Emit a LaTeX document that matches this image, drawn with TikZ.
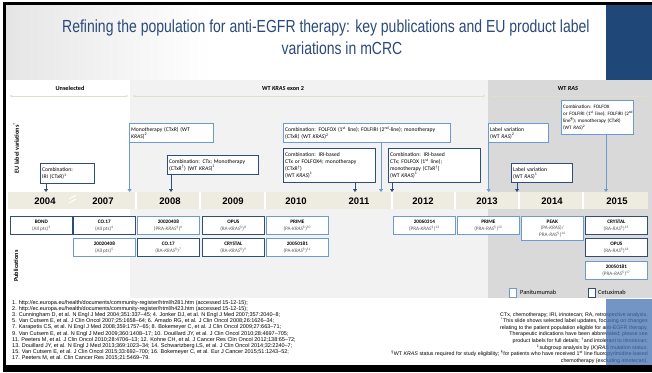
\documentclass[tikz,border=0pt]{standalone}
\usepackage{fontspec}
\setmainfont{Carlito}
\newfontfamily\arialf{Liberation Sans}
\usetikzlibrary{arrows.meta}
\definecolor{cetux}{HTML}{2E4D7B}
\definecolor{panit}{HTML}{6E9AD2}
\definecolor{titleblue}{HTML}{2B4A7A}
\definecolor{sidepanel}{HTML}{1F4778}
\definecolor{sidepaneltwo}{HTML}{4472B4}
\definecolor{lgray}{HTML}{F2F2F2}
\definecolor{dgray}{HTML}{D9D9D9}
\definecolor{yband}{HTML}{EEECE1}
\definecolor{hdrline}{HTML}{E2DEC9}
\definecolor{subgray}{HTML}{595959}
\newcommand{\sps}[1]{\textsuperscript{#1}}
\newcommand{\pubt}[2]{\textbf{#1}\\{\color{subgray}#2}}
\begin{document}
\begin{tikzpicture}[x=1pt,y=-1pt,
  eubox/.style={fill=white,line width=1.2pt,inner xsep=1.5pt,inner ysep=2pt,align=left,anchor=north west,
     font=\fontsize{5.6}{6.9}\selectfont},
  cbox/.style={eubox,draw=cetux},
  pbox/.style={eubox,draw=panit},
  pubbox/.style={fill=white,line width=1.2pt,inner sep=0pt,align=center,anchor=north west,
     minimum width=61.5pt,minimum height=18pt,font=\fontsize{5.2}{6.6}\selectfont},
  cpub/.style={pubbox,draw=cetux},
  ppub/.style={pubbox,draw=panit},
  carr/.style={draw=cetux,line width=1pt,-{Triangle[length=3pt,width=4pt]}},
  parr/.style={draw=panit,line width=1pt,-{Triangle[length=3pt,width=4pt]}},
  hdr/.style={draw=hdrline,line width=0.9pt,{Triangle[length=2pt,width=2.5pt]}-{Triangle[length=2pt,width=2.5pt]}},
  hdrtext/.style={font=\bfseries\fontsize{6.2}{7}\selectfont},
  yr/.style={font=\arialf\bfseries\fontsize{9.5}{10}\selectfont},
  sep/.style={draw=white,line width=1.2pt}
]
\useasboundingbox (0,0) rectangle (652,372);
\fill[white] (0,0) rectangle (652,372);
% title background: stepped gradient (no shading)
\foreach \i in {0,...,24} {
  \pgfmathsetmacro{\cc}{10*(1-\i/25)}
  \fill[black!\cc] ({6+\i*8},4) rectangle ({6+\i*8+8.6},80);
}
% regions
\fill[white] (6,80) rectangle (130,298);
\fill[lgray] (130,80) rectangle (488,298);
\fill[dgray] (488,80) rectangle (652,298);
% title
\node[anchor=base west,inner sep=0,text=titleblue,font=\arialf\fontsize{17.5}{20}\selectfont] (t1) at (62,32)
  {\scalebox{0.8}[1]{Refining the population for anti-EGFR therapy: key publications and EU product label}};
\node[anchor=base,inner sep=0,text=titleblue,font=\arialf\fontsize{17.5}{20}\selectfont] (t2) at (342,54)
  {\scalebox{0.8}[1]{variations in mCRC}};
% header
\node[hdrtext] (h1) at (70,88) {Unselected};
\node[hdrtext] (h2) at (283,88) {WT \textit{KRAS} exon 2};
\node[hdrtext] (h3) at (568,88) {WT \textit{RAS}};
\coordinate (ha1) at (10,96); \coordinate (hb1) at (128,96);
\coordinate (ha2) at (133,96); \coordinate (hb2) at (485,96);
\coordinate (ha3) at (491,96); \coordinate (hb3) at (648,96);
\draw[hdr] (ha1) -- (hb1);
\draw[hdr] (ha2) -- (hb2);
\draw[hdr] (ha3) -- (hb3);
% side labels
\node[rotate=90,font=\bfseries\fontsize{6.2}{7}\selectfont] (s1) at (16,148) {EU label variations\sps{*}};
\node[rotate=90,font=\bfseries\fontsize{6.2}{7}\selectfont] (s2) at (16,266) {Publications};
% year band
\fill[yband] (8,192) rectangle (648,209);
\foreach \xx in {136,200,265,392,455,519,583} {\draw[sep] (\xx,192) -- (\xx,209);}
\draw[draw=white,line width=0.9pt] (69,203) -- (76,199);
\draw[draw=white,line width=0.9pt] (69,199) -- (76,195);
\node[yr] (y04) at (45,201) {2004};
\node[yr] (y07) at (103,201) {2007};
\node[yr] (y08) at (170,201) {2008};
\node[yr] (y09) at (233,201) {2009};
\node[yr] (y10) at (296,201) {2010};
\node[yr] (y11) at (359,201) {2011};
\node[yr] (y12) at (423,201) {2012};
\node[yr] (y13) at (487,201) {2013};
\node[yr] (y14) at (552,201) {2014};
\node[yr] (y15) at (617,201) {2015};
% EU label boxes
\node[cbox,text width=51pt,minimum height=20pt] (b1) at (40,163) {Combination:\\IRI (CTxR)\sps{1}};
\node[pbox,text width=81pt,minimum height=19pt] (b2) at (129,123) {Monotherapy (CTxR) (WT\\\textit{KRAS})\sps{2}};
\node[cbox,text width=88pt,minimum height=19pt] (b3) at (167,155) {Combination: CTx; Monotherapy\\(CTxR\sps{†}) (WT \textit{KRAS})\sps{1}};
\node[pbox,text width=164pt,minimum height=19pt] (b4) at (283,123) {Combination: FOLFOX (1\sps{st} line); FOLFIRI (2\sps{nd}-line); monotherapy\\(CTxR) (WT \textit{KRAS})\sps{2}};
\node[cbox,text width=89pt,minimum height=34pt] (b5) at (283,148) {Combination: IRI-based\\CTx or FOLFOX4; monotherapy\\(CTxR\sps{†})\\(WT \textit{KRAS})\sps{1}};
\node[cbox,text width=89pt,minimum height=34pt] (b6) at (388,148) {Combination: IRI-based\\CTx; FOLFOX (1\sps{st} line);\\monotherapy (CTxR\sps{†})\\(WT \textit{KRAS})\sps{1}};
\node[pbox,text width=57pt,minimum height=19pt] (b7) at (488,123) {Label variation\\(WT \textit{RAS})\sps{2}};
\node[cbox,text width=58pt,minimum height=19pt] (b8) at (511,163) {Label variation\\(WT \textit{RAS})\sps{1}};
\node[pbox,text width=69pt,minimum height=34pt,font=\fontsize{5.1}{6.9}\selectfont] (b9) at (561,100) {Combination: FOLFOX\\\mbox{or FOLFIRI (1\sps{st} line); FOLFIRI (2\sps{nd}}\\line\sps{¶}); monotherapy (CTxR)\\(WT \textit{RAS})\sps{2}};
% arrow targets on the year band
\coordinate (a1) at (46,192);
\coordinate (a2) at (129.6,192);
\coordinate (a3) at (171,192);
\coordinate (a4) at (381,192);
\coordinate (a5) at (355,192);
\coordinate (a6) at (392,192);
\coordinate (a7) at (488.6,192);
\coordinate (a8) at (517,192);
\coordinate (a9) at (606,192);
\draw[carr] (b1.south -| a1) -- (a1);
\draw[parr] (b2.south west -| a2) -- (a2);
\draw[carr] (b3.south -| a3) -- (a3);
\draw[parr] (b4.south -| a4) -- (a4);
\draw[carr] (b5.south -| a5) -- (a5);
\draw[carr] (b6.south -| a6) -- (a6);
\draw[parr] (b7.south west -| a7) -- (a7);
\draw[carr] (b8.south -| a8) -- (a8);
\draw[parr] (b9.south -| a9) -- (a9);
% publications
\node[cpub] (p1) at (10,216) {\pubt{BOND}{(All pts)\sps{3}}};
\node[cpub] (p2) at (73,216) {\pubt{CO.17}{(All pts)\sps{4}}};
\node[ppub] (p3) at (73,238) {\pubt{20020408}{(All pts)\sps{5}}};
\node[ppub] (p4) at (137,216) {\pubt{20020408}{(PRA-\textit{KRAS}\sps{§})\sps{6}}};
\node[cpub] (p5) at (137,238) {\pubt{CO.17}{(RA-\textit{KRAS}\sps{§})\sps{7}}};
\node[cpub] (p6) at (202,216) {\pubt{OPUS}{(RA-\textit{KRAS}\sps{§})\sps{8}}};
\node[cpub] (p7) at (202,238) {\pubt{CRYSTAL}{(RA-\textit{KRAS}\sps{§})\sps{9}}};
\node[ppub] (p8) at (266,216) {\pubt{PRIME}{(PA-\textit{KRAS}\sps{§})\sps{10}}};
\node[ppub] (p9) at (266,238) {\pubt{20050181}{(PA-\textit{KRAS}\sps{§})\sps{11}}};
\node[ppub] (p10) at (393,216) {\pubt{20060314}{(PRA-\textit{KRAS}\sps{§})\sps{12}}};
\node[ppub] (p11) at (457,216) {\pubt{PRIME}{(PRA-\textit{RAS}\sps{§})\sps{13}}};
\node[ppub,minimum height=24pt] (p12) at (521,216) {\textbf{PEAK}\\{\color{subgray}(PA-\textit{KRAS})/}\\{\color{subgray}PRA-\textit{RAS}\sps{§})\sps{14}}};
\node[cpub] (p13) at (585,216) {\pubt{CRYSTAL}{(RA-\textit{RAS}\sps{§})\sps{15}}};
\node[cpub] (p14) at (585,238) {\pubt{OPUS}{(RA-\textit{RAS}\sps{§})\sps{16}}};
\node[ppub] (p15) at (585,261) {\pubt{20050181}{(PRA-\textit{RAS}\sps{§})\sps{17}}};
% legend
\node[draw=panit,line width=1pt,fill=white,minimum width=7pt,minimum height=9pt,inner sep=0,anchor=north west] (lg1) at (509,288) {};
\node[anchor=west,inner sep=0,font=\fontsize{6.3}{7}\selectfont] (lt1) at (520,292.5) {Panitumumab};
\node[draw=cetux,line width=1pt,fill=white,minimum width=7pt,minimum height=9pt,inner sep=0,anchor=north west] (lg2) at (588,288) {};
\node[anchor=west,inner sep=0,font=\fontsize{6.3}{7}\selectfont] (lt2) at (598,292.5) {Cetuximab};
% footnotes
\node[anchor=north west,inner sep=0,align=left,font=\arialf\fontsize{5.5}{6.2}\selectfont] (fn1) at (12,300) {%
1. http://ec.europa.eu/health/documents/community-register/html/h281.htm (accessed 15-12-15);\\
2. http://ec.europa.eu/health/documents/community-register/html/h423.htm (accessed 15-12-15);\\
3. Cunningham D, et al. N Engl J Med 2004;351:337–45; 4. Jonker DJ, et al. N Engl J Med 2007;357:2040–8;\\
5. Van Cutsem E, et al. J Clin Oncol 2007;25:1658–64; 6. Amado RG, et al. J Clin Oncol 2008;26:1626–34;\\
7. Karapetis CS, et al. N Engl J Med 2008;359:1757–65; 8. Bokemeyer C, et al. J Clin Oncol 2009;27:663–71;\\
9. Van Cutsem E, et al. N Engl J Med 2009;360:1408–17; 10. Douillard JY, et al. J Clin Oncol 2010;28:4697–705;\\
11. Peeters M, et al. J Clin Oncol 2010;28:4706–13; 12. Kohne CH, et al. J Cancer Res Clin Oncol 2012;138:65–72;\\
13. Douillard JY, et al. N Engl J Med 2013;369:1023–34; 14. Schwartzberg LS, et al. J Clin Oncol 2014;32:2240–7;\\
15. Van Cutsem E, et al. J Clin Oncol 2015;33:692–700; 16. Bokemeyer C, et al. Eur J Cancer 2015;51:1243–52;\\
17. Peeters M, et al. Clin Cancer Res 2015;21:5469–79.};
\node[anchor=north east,inner sep=0,align=right,font=\arialf\fontsize{5.3}{6.6}\selectfont] (fn2) at (648,312) {%
CTx, chemotherapy; IRI, irinotecan; RA, retrospective analysis.\\
\sps{*}This slide shows selected label updates, focusing on changes\\
relating to the patient population eligible for anti-EGFR therapy.\\
Therapeutic indications have been abbreviated; please see\\
product labels for full details; \sps{†}and intolerant to irinotecan;\\
\sps{‡}subgroup analysis by (\textit{K})\textit{RAS} mutation status;\\
\sps{§}WT \textit{KRAS} status required for study eligibility; \sps{¶}for patients who have received 1\sps{st} line fluoropyrimidine-based\\
chemotherapy (excluding irinotecan).};
% right panels, on top
\fill[sidepanel] (606,4) rectangle (652,80);
\fill[sidepaneltwo,fill opacity=0.75] (606,299) rectangle (652,365);
% frame
\fill[black] (3,2) rectangle (652,4.5);
\fill[black] (3,2) rectangle (6,372);
\fill[black] (3,365) rectangle (652,372);
\end{tikzpicture}
\end{document}
